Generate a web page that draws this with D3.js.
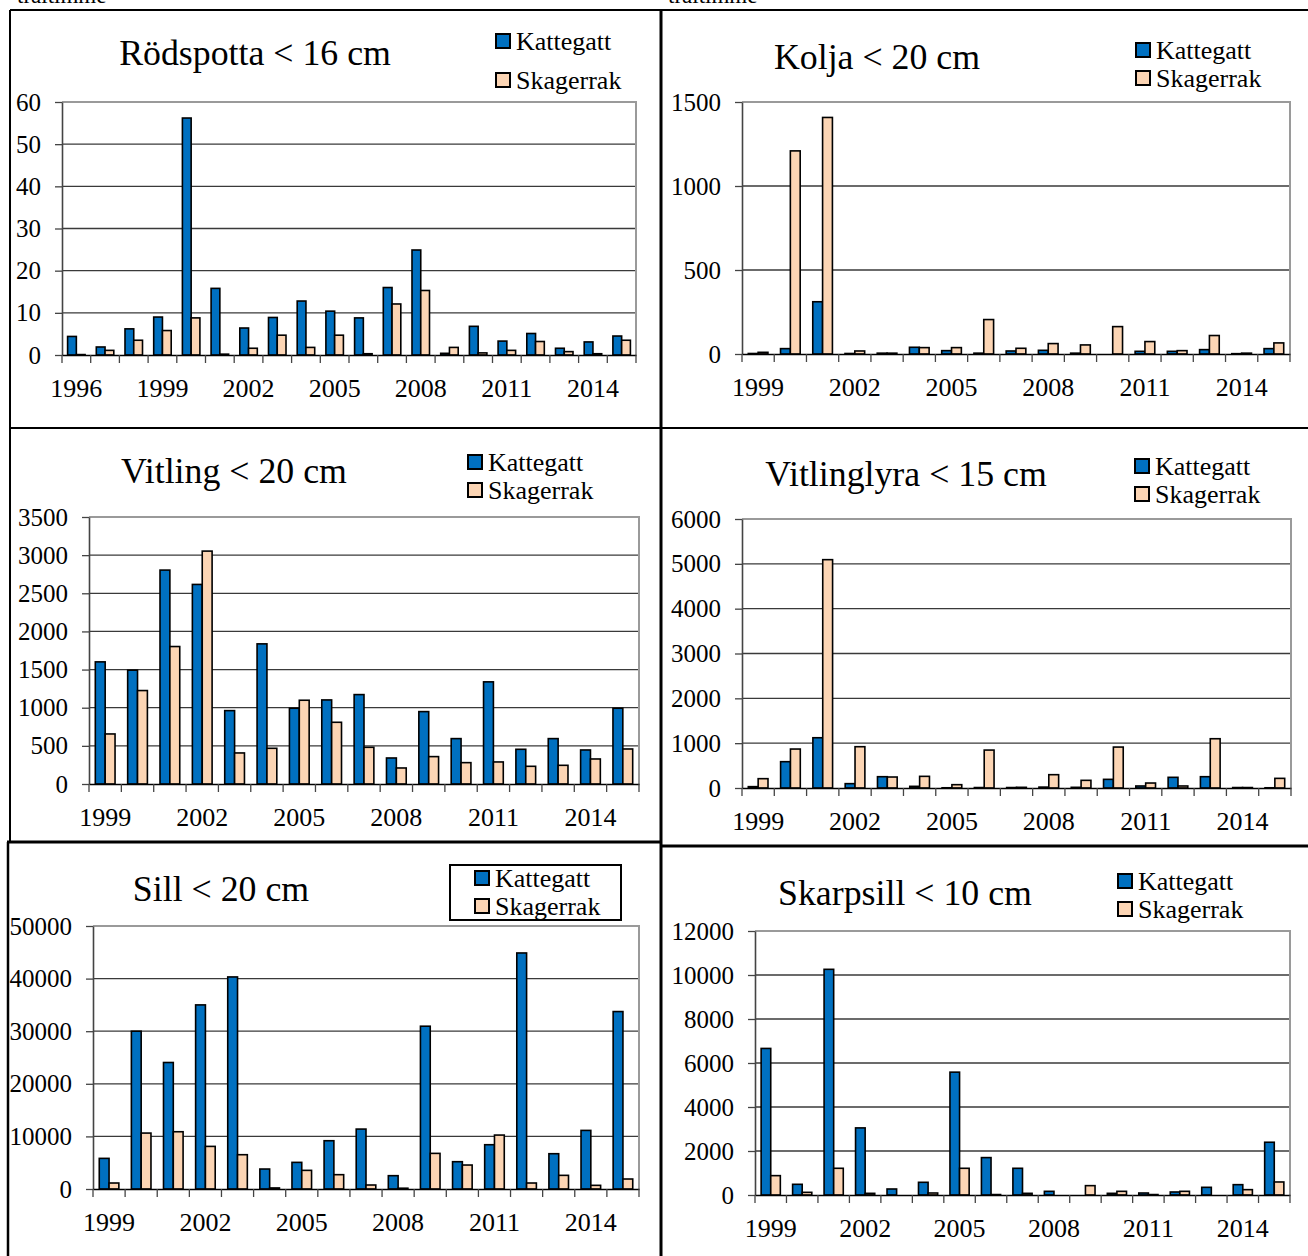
<!DOCTYPE html>
<html><head><meta charset="utf-8">
<script src="https://cdn.jsdelivr.net/npm/d3@7"></script>
<style>
body{margin:0;background:#fff}
svg{display:block}
text{font-family:"Liberation Serif","Times New Roman",serif;fill:#000}
</style>
</head><body>
<svg id="c" width="1308" height="1256"></svg>
<script>
// ---------- data ----------
const seriesNames = ["Kattegatt", "Skagerrak"];
const years1996 = ["1996","1997","1998","1999","2000","2001","2002","2003","2004","2005","2006","2007","2008","2009","2010","2011","2012","2013","2014","2015"];
const years1999 = ["1999","2000","2001","2002","2003","2004","2005","2006","2007","2008","2009","2010","2011","2012","2013","2014","2015"];

const rodspottaKattegatt = [4.4,1.9,6.2,9.0,56.2,15.8,6.4,8.9,12.8,10.4,8.8,16.0,24.9,0.4,6.8,3.3,5.1,1.6,3.1,4.5];
const rodspottaSkagerrak = [0.1,1.1,3.5,5.8,8.8,0.2,1.6,4.7,1.8,4.7,0.3,12.1,15.3,1.8,0.5,1.1,3.2,0.8,0.3,3.5];
const rodspottaTicks = [0,10,20,30,40,50,60];

const koljaKattegatt = [3,32,311,3,5,40,20,5,18,22,5,0,16,16,26,2,32];
const koljaSkagerrak = [10,1209,1408,18,5,38,38,205,34,62,54,163,74,20,110,5,66];
const koljaTicks = [0,500,1000,1500];

const vitlingKattegatt = [1601,1492,2804,2616,962,1837,993,1102,1172,341,949,595,1339,455,595,446,993];
const vitlingSkagerrak = [656,1225,1802,3053,407,468,1098,809,481,210,359,280,289,232,245,328,459];
const vitlingTicks = [0,500,1000,1500,2000,2500,3000,3500];

const vitlinglyraKattegatt = [30,587,1121,97,252,37,5,10,10,20,15,193,45,238,252,10,5];
const vitlinglyraSkagerrak = [208,869,5093,921,245,260,74,846,15,297,171,913,111,45,1099,10,215];
const vitlinglyraTicks = [0,1000,2000,3000,4000,5000,6000];

const sillKattegatt = [5823,30000,24051,35000,40316,3797,5063,9177,11392,2532,30949,5190,8418,44873,6709,11139,33734];
const sillSkagerrak = [1139,10633,10886,8101,6519,200,3544,2722,759,150,6772,4557,10253,1139,2595,696,1899];
const sillTicks = [0,10000,20000,30000,40000,50000];

const skarpsillKattegatt = [6662,486,10258,3050,273,577,5584,1700,1214,167,0,76,91,137,349,470,2398];
const skarpsillSkagerrak = [880,121,1214,76,0,91,1214,20,76,0,425,167,20,167,0,243,592];
const skarpsillTicks = [0,2000,4000,6000,8000,10000,12000];

const titles = ["Rödspotta < 16 cm","Kolja < 20 cm","Vitling < 20 cm","Vitlinglyra < 15 cm","Sill < 20 cm","Skarpsill < 10 cm"];

// ---------- layout (positions only) ----------
const layouts = [
  {x0:62,  x1:636,  yTop:102, y0:355,  tx:255, ty:65,  lx:496,  ly:[34,73],   ltx:516},
  {x0:742, x1:1290, yTop:102, y0:354,  tx:877, ty:69,  lx:1136, ly:[43,71],   ltx:1156},
  {x0:89,  x1:639,  yTop:517, y0:784,  tx:234, ty:483, lx:468,  ly:[455,483], ltx:488},
  {x0:742, x1:1291, yTop:519, y0:788,  tx:906, ty:486, lx:1135, ly:[459,487], ltx:1155},
  {x0:93,  x1:639,  yTop:926, y0:1189, tx:221, ty:901, lx:475,  ly:[871,899], ltx:495, box:[450,865,171,55]},
  {x0:755, x1:1290, yTop:931, y0:1195, tx:905, ty:905, lx:1118, ly:[874,902], ltx:1138}
];

const panels = [
  {cats:years1996, k:rodspottaKattegatt,   s:rodspottaSkagerrak,   ticks:rodspottaTicks},
  {cats:years1999, k:koljaKattegatt,       s:koljaSkagerrak,       ticks:koljaTicks},
  {cats:years1999, k:vitlingKattegatt,     s:vitlingSkagerrak,     ticks:vitlingTicks},
  {cats:years1999, k:vitlinglyraKattegatt, s:vitlinglyraSkagerrak, ticks:vitlinglyraTicks},
  {cats:years1999, k:sillKattegatt,        s:sillSkagerrak,        ticks:sillTicks},
  {cats:years1999, k:skarpsillKattegatt,   s:skarpsillSkagerrak,   ticks:skarpsillTicks}
].map((p,i)=>Object.assign(p,{title:titles[i]},layouts[i]));

const colors = ["#0070C0", "#FCD5B4"];
const svg = d3.select("#c");
const serif = "'Liberation Serif','Times New Roman',serif";

// header text, clipped at the top edge as in the reference
svg.append("text").attr("x",17).attr("y",3).attr("font-size",23).text("tråltimme");
svg.append("text").attr("x",668).attr("y",3).attr("font-size",23).text("tråltimme");

function drawPanel(p){
  const g = svg.append("g");
  const pi = 0.39;
  const x = d3.scaleBand().domain(p.cats).range([p.x0,p.x1]).paddingInner(pi).paddingOuter(pi/2);
  const ymax = d3.max(p.ticks);
  const y = d3.scaleLinear().domain([0,ymax]).range([p.y0,p.yTop]);
  const bw = x.bandwidth()/2;

  // gridlines
  g.selectAll("line.grid").data(p.ticks.filter(t=>t>0 && t<ymax)).join("line")
    .attr("x1",p.x0).attr("x2",p.x1).attr("y1",d=>y(d)).attr("y2",d=>y(d))
    .attr("stroke","#3a3a3a").attr("stroke-width",1.3);
  // plot border (top + right) in gray
  g.append("path").attr("d",`M${p.x0},${y(ymax)}H${p.x1}V${p.y0}`)
    .attr("fill","none").attr("stroke","#9a9a9a").attr("stroke-width",2);

  // bars
  const series = [p.k, p.s];
  series.forEach((vals,si)=>{
    g.selectAll(null).data(p.cats).join("rect")
      .attr("x",d=>x(d)+si*bw)
      .attr("y",(d,i)=>y(vals[i]))
      .attr("width",bw)
      .attr("height",(d,i)=>y(0)-y(vals[i]))
      .attr("fill",colors[si]).attr("stroke","#000").attr("stroke-width",1.6);
  });

  // y axis
  const ya = g.append("g").attr("transform",`translate(${p.x0},0)`)
    .call(d3.axisLeft(y).tickValues(p.ticks).tickSize(7).tickSizeOuter(0).tickPadding(14).tickFormat(d3.format("d")));
  ya.attr("font-family",serif);
  ya.select(".domain").attr("stroke","#444").attr("stroke-width",1.6);
  ya.selectAll(".tick line").attr("stroke","#444").attr("stroke-width",1.3);
  ya.selectAll("text").attr("font-size",25).style("font-family",serif).attr("fill","#000");

  // x axis (labels at every third category)
  const xa = g.append("g").attr("transform",`translate(0,${p.y0})`)
    .call(d3.axisBottom(x).tickSize(0).tickPadding(24).tickFormat((d,i)=> i%3===0 ? d : ""));
  xa.attr("font-family",serif);
  xa.select(".domain").attr("stroke","#000").attr("stroke-width",1.6);
  xa.selectAll("text").attr("font-size",26).style("font-family",serif).attr("fill","#000");
  // category boundary tick marks
  const off = x.step()*x.paddingOuter();
  const bounds = p.cats.map(c=>x(c)-off).concat([x(p.cats[p.cats.length-1])-off+x.step()]);
  g.selectAll(null).data(bounds).join("line")
    .attr("x1",d=>d).attr("x2",d=>d).attr("y1",p.y0).attr("y2",p.y0+8)
    .attr("stroke","#444").attr("stroke-width",1.3);

  // title
  g.append("text").attr("x",p.tx).attr("y",p.ty).attr("text-anchor","middle")
    .attr("font-size",35.8).text(p.title);

  // legend
  if(p.box){
    g.append("rect").attr("x",p.box[0]).attr("y",p.box[1]).attr("width",p.box[2]).attr("height",p.box[3])
      .attr("fill","none").attr("stroke","#000").attr("stroke-width",2);
  }
  seriesNames.forEach((n,i)=>{
    g.append("rect").attr("x",p.lx).attr("y",p.ly[i]).attr("width",14).attr("height",14)
      .attr("fill",colors[i]).attr("stroke","#000").attr("stroke-width",2);
    g.append("text").attr("x",p.ltx).attr("y",p.ly[i]+16).attr("font-size",26).text(n);
  });
}
panels.forEach(drawPanel);

// panel frames
const frames = [
  [10,10,1308,10,2],
  [10,10,10,842,2],
  [8,842,8,1256,2.5],
  [661,9,661,1256,3],
  [9,428,1308,428,2],
  [7,842,661,842,3],
  [661,846,1308,846,3]
];
svg.selectAll("line.frame").data(frames).join("line").attr("class","frame")
  .attr("x1",d=>d[0]).attr("y1",d=>d[1]).attr("x2",d=>d[2]).attr("y2",d=>d[3])
  .attr("stroke","#000").attr("stroke-width",d=>d[4]);
</script>
</body></html>
